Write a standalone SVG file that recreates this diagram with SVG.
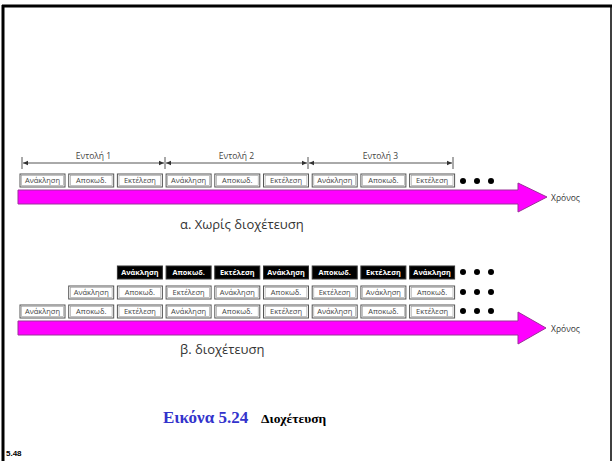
<svg xmlns="http://www.w3.org/2000/svg" width="612" height="461" viewBox="0 0 612 461">
<style>
.bx{fill:#fff;stroke:#555;stroke-width:1}
.bi{fill:none;stroke:#999;stroke-width:0.6}
.bk{fill:#000;stroke:#333;stroke-width:1}
.t{font-family:"Open Sans","Liberation Sans",sans-serif;font-size:7.5px;fill:#444;text-anchor:middle}
.tw{font-family:"Open Sans","Liberation Sans",sans-serif;font-size:7.3px;font-weight:bold;fill:#fff;text-anchor:middle}
.lbl{font-family:"Open Sans","Liberation Sans",sans-serif;font-size:8.5px;fill:#444;text-anchor:middle}
.sub{font-family:"Open Sans","Liberation Sans",sans-serif;font-size:13px;fill:#333}
.tm{font-family:"Open Sans","Liberation Sans",sans-serif;font-size:8.5px;fill:#333}
.arr{fill:#ff00ff;stroke:#993399;stroke-width:1}
.dim{stroke:#555;stroke-width:1;fill:none}
.dot{fill:#000}
</style>
<defs>
<marker id="ah" markerWidth="6" markerHeight="6" refX="5" refY="3" orient="auto-start-reverse" markerUnits="userSpaceOnUse"><path d="M0,0.8 L5,3 L0,5.2 Z" fill="#333"/></marker>
<g id="bA"><rect class="bx" x="0" y="0" width="45" height="13"/><rect class="bi" x="1.6" y="1.6" width="41.8" height="9.8"/></g>
</defs>
<rect x="0" y="0" width="612" height="461" fill="#fff"/>
<g id="frame">
<line x1="3" y1="5" x2="3" y2="461" stroke="#000" stroke-width="3"/>
<line x1="2" y1="6" x2="612" y2="6" stroke="#000" stroke-width="3"/>
<line x1="611" y1="5" x2="611" y2="461" stroke="#000" stroke-width="1.5"/>
</g>
<g id="connectors">
<line class="dim" x1="22" y1="157" x2="22" y2="169"/>
<line class="dim" x1="165" y1="157" x2="165" y2="169"/>
<line class="dim" x1="308" y1="157" x2="308" y2="169"/>
<line class="dim" x1="453" y1="157" x2="453" y2="169"/>
<line class="dim" x1="23" y1="163" x2="164" y2="163" marker-start="url(#ah)" marker-end="url(#ah)"/>
<line class="dim" x1="166" y1="163" x2="307" y2="163" marker-start="url(#ah)" marker-end="url(#ah)"/>
<line class="dim" x1="309" y1="163" x2="452" y2="163" marker-start="url(#ah)" marker-end="url(#ah)"/>
<path id="time1" class="arr" d="M18,190 H518 V183 L547,197 L518,212 V204 H18 Z"/>
<path id="time2" class="arr" d="M18,321 H518 V312 L546,328 L518,344 V335 H18 Z"/>
</g>
<g id="labels-top">
<text class="lbl" x="93.5" y="159">Εντολή 1</text>
<text class="lbl" x="236.5" y="159">Εντολή 2</text>
<text class="lbl" x="380.5" y="159">Εντολή 3</text>
</g>
<g id="row-a">
<g id="a0" transform="translate(20,174)"><use href="#bA"/><text class="t" x="22.5" y="9.4">Ανάκληση</text></g>
<g id="a1" transform="translate(68.7,174)"><use href="#bA"/><text class="t" x="22.5" y="9.4">Αποκωδ.</text></g>
<g id="a2" transform="translate(117.4,174)"><use href="#bA"/><text class="t" x="22.5" y="9.4">Εκτέλεση</text></g>
<g id="a3" transform="translate(166.1,174)"><use href="#bA"/><text class="t" x="22.5" y="9.4">Ανάκληση</text></g>
<g id="a4" transform="translate(214.8,174)"><use href="#bA"/><text class="t" x="22.5" y="9.4">Αποκωδ.</text></g>
<g id="a5" transform="translate(263.5,174)"><use href="#bA"/><text class="t" x="22.5" y="9.4">Εκτέλεση</text></g>
<g id="a6" transform="translate(312.2,174)"><use href="#bA"/><text class="t" x="22.5" y="9.4">Ανάκληση</text></g>
<g id="a7" transform="translate(360.9,174)"><use href="#bA"/><text class="t" x="22.5" y="9.4">Αποκωδ.</text></g>
<g id="a8" transform="translate(409.6,174)"><use href="#bA"/><text class="t" x="22.5" y="9.4">Εκτέλεση</text></g>
<g id="dots-a"><circle class="dot" cx="463" cy="181" r="3"/><circle class="dot" cx="477" cy="181" r="3"/><circle class="dot" cx="491" cy="181" r="3"/></g>
</g>
<text class="tm" x="551" y="201">Χρόνος</text>
<text class="sub" x="180" y="229">α. Χωρίς διοχέτευση</text>
<g id="row-b1">
<g id="b1-2" transform="translate(117.4,266)"><rect class="bk" width="45" height="13"/><text class="tw" x="22.5" y="9.4">Ανάκληση</text></g>
<g id="b1-3" transform="translate(166.1,266)"><rect class="bk" width="45" height="13"/><text class="tw" x="22.5" y="9.4">Αποκωδ.</text></g>
<g id="b1-4" transform="translate(214.8,266)"><rect class="bk" width="45" height="13"/><text class="tw" x="22.5" y="9.4">Εκτέλεση</text></g>
<g id="b1-5" transform="translate(263.5,266)"><rect class="bk" width="45" height="13"/><text class="tw" x="22.5" y="9.4">Ανάκληση</text></g>
<g id="b1-6" transform="translate(312.2,266)"><rect class="bk" width="45" height="13"/><text class="tw" x="22.5" y="9.4">Αποκωδ.</text></g>
<g id="b1-7" transform="translate(360.9,266)"><rect class="bk" width="45" height="13"/><text class="tw" x="22.5" y="9.4">Εκτέλεση</text></g>
<g id="b1-8" transform="translate(409.6,266)"><rect class="bk" width="45" height="13"/><text class="tw" x="22.5" y="9.4">Ανάκληση</text></g>
<g id="dots-b1"><circle class="dot" cx="463" cy="272" r="3"/><circle class="dot" cx="477" cy="272" r="3"/><circle class="dot" cx="491" cy="272" r="3"/></g>
</g>
<g id="row-b2">
<g id="b2-1" transform="translate(68.7,286)"><use href="#bA"/><text class="t" x="22.5" y="9.4">Ανάκληση</text></g>
<g id="b2-2" transform="translate(117.4,286)"><use href="#bA"/><text class="t" x="22.5" y="9.4">Αποκωδ.</text></g>
<g id="b2-3" transform="translate(166.1,286)"><use href="#bA"/><text class="t" x="22.5" y="9.4">Εκτέλεση</text></g>
<g id="b2-4" transform="translate(214.8,286)"><use href="#bA"/><text class="t" x="22.5" y="9.4">Ανάκληση</text></g>
<g id="b2-5" transform="translate(263.5,286)"><use href="#bA"/><text class="t" x="22.5" y="9.4">Αποκωδ.</text></g>
<g id="b2-6" transform="translate(312.2,286)"><use href="#bA"/><text class="t" x="22.5" y="9.4">Εκτέλεση</text></g>
<g id="b2-7" transform="translate(360.9,286)"><use href="#bA"/><text class="t" x="22.5" y="9.4">Ανάκληση</text></g>
<g id="b2-8" transform="translate(409.6,286)"><use href="#bA"/><text class="t" x="22.5" y="9.4">Αποκωδ.</text></g>
<g id="dots-b2"><circle class="dot" cx="463" cy="292" r="3"/><circle class="dot" cx="477" cy="292" r="3"/><circle class="dot" cx="491" cy="292" r="3"/></g>
</g>
<g id="row-b3">
<g id="b3-0" transform="translate(20,305)"><use href="#bA"/><text class="t" x="22.5" y="9.4">Ανάκληση</text></g>
<g id="b3-1" transform="translate(68.7,305)"><use href="#bA"/><text class="t" x="22.5" y="9.4">Αποκωδ.</text></g>
<g id="b3-2" transform="translate(117.4,305)"><use href="#bA"/><text class="t" x="22.5" y="9.4">Εκτέλεση</text></g>
<g id="b3-3" transform="translate(166.1,305)"><use href="#bA"/><text class="t" x="22.5" y="9.4">Ανάκληση</text></g>
<g id="b3-4" transform="translate(214.8,305)"><use href="#bA"/><text class="t" x="22.5" y="9.4">Αποκωδ.</text></g>
<g id="b3-5" transform="translate(263.5,305)"><use href="#bA"/><text class="t" x="22.5" y="9.4">Εκτέλεση</text></g>
<g id="b3-6" transform="translate(312.2,305)"><use href="#bA"/><text class="t" x="22.5" y="9.4">Ανάκληση</text></g>
<g id="b3-7" transform="translate(360.9,305)"><use href="#bA"/><text class="t" x="22.5" y="9.4">Αποκωδ.</text></g>
<g id="b3-8" transform="translate(409.6,305)"><use href="#bA"/><text class="t" x="22.5" y="9.4">Εκτέλεση</text></g>
<g id="dots-b3"><circle class="dot" cx="463" cy="311" r="3"/><circle class="dot" cx="477" cy="311" r="3"/><circle class="dot" cx="491" cy="311" r="3"/></g>
</g>
<text class="tm" x="551" y="332">Χρόνος</text>
<text class="sub" x="180" y="354">β. διοχέτευση</text>
<g id="caption">
<text x="163" y="423" font-family="Liberation Serif, serif" font-weight="bold" font-size="17" fill="#3333cc">Εικόνα 5.24</text>
<text x="261" y="423" font-family="Liberation Serif, serif" font-weight="bold" font-size="13.5" fill="#000">Διοχέτευση</text>
</g>
<text x="6" y="456" font-family="Liberation Sans, sans-serif" font-weight="bold" font-size="8" fill="#000">5.48</text>
</svg>
